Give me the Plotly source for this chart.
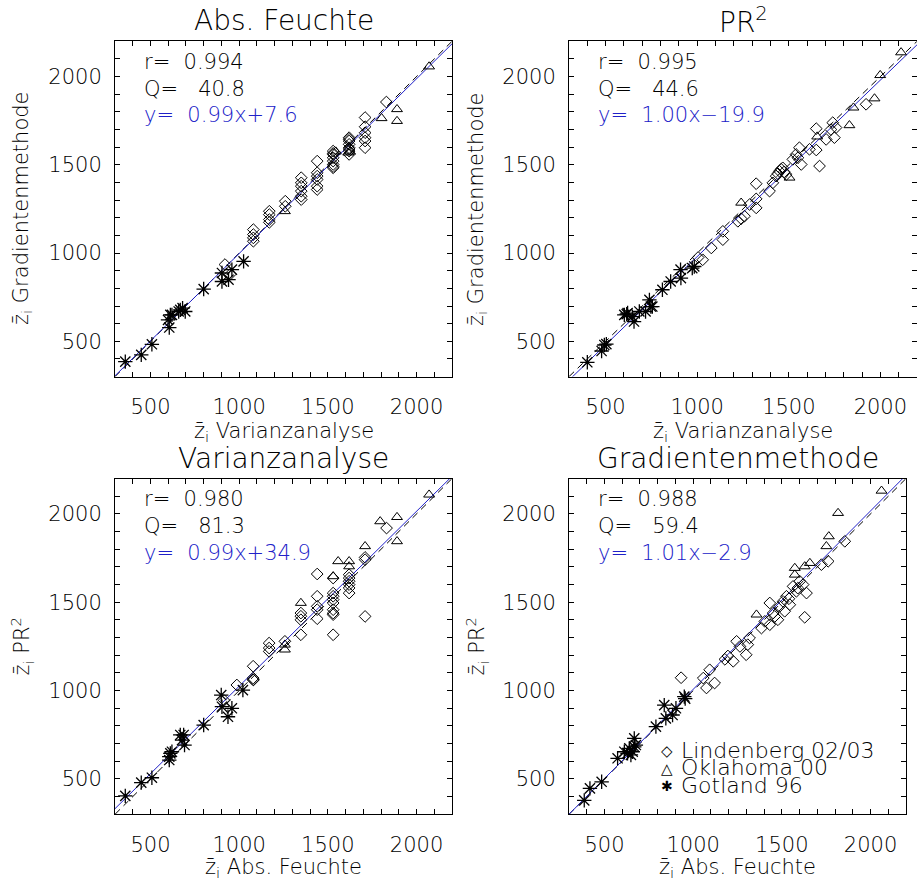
import plotly.graph_objects as go

W, H = 917, 881

# ---------------------------------------------------------------------------
# Data: mixing-layer height estimates (m) per campaign, one block per panel
# ---------------------------------------------------------------------------

# Panel 1: Abs. Feuchte, Varianzanalyse (x) vs Gradientenmethode (y)
p1_lin_x = [920, 950, 1080, 1080, 1080, 1080, 1170, 1170, 1170, 1170, 1260, 1260,
            1350, 1350, 1350, 1350, 1350, 1350, 1440, 1440, 1440, 1440, 1440, 1440,
            1530, 1530, 1530, 1530, 1530, 1530, 1530, 1530,
            1620, 1620, 1620, 1620, 1620, 1620, 1620, 1620,
            1710, 1710, 1710, 1710, 1710, 1710, 1830]
p1_lin_y = [935, 880, 1133, 1105, 1086, 1067, 1237, 1218, 1190, 1174, 1294, 1265,
            1427, 1398, 1379, 1351, 1322, 1303, 1521, 1455, 1436, 1417, 1379, 1360,
            1578, 1565, 1559, 1540, 1521, 1502, 1490, 1483,
            1654, 1645, 1635, 1616, 1597, 1590, 1578, 1559,
            1768, 1716, 1682, 1654, 1635, 1597, 1856]
p1_okl_x = [1258, 1545, 1615, 1625, 1803, 1890, 1890, 2071]
p1_okl_y = [1237, 1575, 1569, 1575, 1764, 1815, 1748, 2057]
p1_got_x = [358, 448, 508, 599, 606, 612, 621, 659, 668, 681, 696, 800, 903, 903, 940, 959, 1025]
p1_got_y = [385, 423, 483, 621, 578, 650, 650, 669, 678, 688, 669, 796, 887, 839, 849, 906, 953]

# Panel 2: PR2, Varianzanalyse (x) vs Gradientenmethode (y)
p2_lin_x = [1005, 1030, 1077, 1140, 1140, 1222, 1240, 1258, 1286, 1322, 1322, 1322,
            1395, 1413, 1431, 1440, 1449, 1458, 1467, 1486, 1475, 1522, 1540, 1558,
            1568, 1550, 1613, 1650, 1668, 1650, 1704, 1740, 1749, 1758, 1730, 1922]
p2_lin_y = [975, 962, 1029, 1076, 1123, 1180, 1195, 1209, 1275, 1256, 1307, 1393,
            1351, 1398, 1436, 1450, 1464, 1475, 1483, 1445, 1460, 1531, 1559, 1597,
            1502, 1540, 1588, 1584, 1493, 1705, 1644, 1739, 1654, 1711, 1700, 1843]
p2_okl_x = [1240, 1504, 1655, 1831, 1853, 1968, 1999, 2113]
p2_okl_y = [1285, 1427, 1660, 1724, 1824, 1876, 2008, 2137]
p2_got_x = [400, 478, 493, 504, 602, 615, 620, 646, 655, 684, 718, 739, 747, 755,
            810, 855, 909, 911, 973, 984]
p2_got_y = [381, 445, 479, 484, 650, 654, 660, 640, 612, 669, 669, 735, 697, 697,
            792, 839, 906, 858, 915, 924]

# Panel 3: Varianzanalyse, Abs. Feuchte (x) vs PR2 (y)
p3_lin_x = [915, 987, 1080, 1079, 1079, 1079, 1169, 1169, 1169, 1258,
            1348, 1348, 1348, 1348, 1440, 1440, 1440, 1440, 1440,
            1530, 1530, 1530, 1530, 1530, 1530, 1530, 1530, 1530,
            1620, 1620, 1620, 1620, 1620, 1620, 1710, 1710, 1710, 1831]
p3_lin_y = [945, 1032, 1060, 1138, 1071, 1062, 1269, 1241, 1222, 1279,
            1439, 1421, 1401, 1316, 1660, 1534, 1477, 1458, 1407,
            1637, 1552, 1534, 1515, 1496, 1458, 1439, 1430, 1316,
            1656, 1637, 1619, 1600, 1581, 1552, 1754, 1741, 1420, 1920]
p3_okl_x = [1258, 1258, 1348, 1530, 1558, 1620, 1620, 1710, 1795, 1890, 1890, 2071]
p3_okl_y = [1232, 1260, 1496, 1647, 1732, 1732, 1703, 1817, 1958, 1982, 1845, 2109]
p3_got_x = [358, 448, 508, 606, 606, 612, 621, 668, 687, 678, 692, 800, 899, 903, 937, 959, 1021]
p3_got_y = [404, 479, 507, 626, 607, 645, 654, 749, 749, 720, 692, 805, 975, 909, 852, 900, 1003]

# Panel 4: Gradientenmethode, Abs. Feuchte (x) vs PR2 (y)
p4_lin_x = [932, 1057, 1075, 1093, 1121, 1179, 1196, 1226, 1245, 1264, 1299, 1308, 1318,
            1385, 1404, 1432, 1432, 1451, 1478, 1488, 1507, 1516, 1526, 1545, 1563,
            1582, 1601, 1620, 1639, 1629, 1723, 1761, 1855, 1460, 1540, 1590]
p4_lin_y = [1073, 1071, 1015, 1118, 1043, 1177, 1196, 1166, 1279, 1250, 1203, 1260, 1298,
            1354, 1392, 1496, 1373, 1439, 1401, 1477, 1505, 1449, 1534, 1486, 1590,
            1562, 1619, 1600, 1552, 1415, 1713, 1732, 1845, 1420, 1520, 1580]
p4_okl_x = [1357, 1573, 1573, 1629, 1658, 1751, 1765, 1817, 2062]
p4_okl_y = [1430, 1694, 1656, 1703, 1722, 1817, 1873, 2005, 2131]
p4_got_x = [386, 418, 484, 574, 612, 630, 640, 649, 659, 668, 668, 677, 790, 837, 846, 884, 903, 950, 955]
p4_got_y = [379, 447, 484, 617, 654, 645, 673, 636, 654, 730, 682, 692, 796, 918, 843, 862, 900, 966, 955]

# Regression statistics per panel
corr_r = [0.994, 0.995, 0.980, 0.988]
quad_q = [40.8, 44.6, 81.3, 59.4]
fit_slope = [0.99, 1.00, 0.99, 1.01]
fit_icpt = [7.6, -19.9, 34.9, -2.9]

titles = ["Abs. Feuchte", "PR<sup>2</sup>", "Varianzanalyse", "Gradientenmethode"]
xtitles = ["Varianzanalyse", "Varianzanalyse", "Abs. Feuchte", "Abs. Feuchte"]
ytitles = ["Gradientenmethode", "Gradientenmethode", "PR<sup>2</sup>", "PR<sup>2</sup>"]
site_names = ["Lindenberg 02/03", "Oklahoma 00", "Gotland 96"]

AX_MIN, AX_MAX = 300, 2200

# ---------------------------------------------------------------------------
FONT = "DejaVu Sans"
WEIGHT = 200
TXT = "#000000"
BLUE = "#2020c8"


def font(size, color=TXT):
    return dict(family=FONT, size=size, color=color, weight=WEIGHT)


panels = [
    (p1_lin_x, p1_lin_y, p1_okl_x, p1_okl_y, p1_got_x, p1_got_y),
    (p2_lin_x, p2_lin_y, p2_okl_x, p2_okl_y, p2_got_x, p2_got_y),
    (p3_lin_x, p3_lin_y, p3_okl_x, p3_okl_y, p3_got_x, p3_got_y),
    (p4_lin_x, p4_lin_y, p4_okl_x, p4_okl_y, p4_got_x, p4_got_y),
]

# plot-box edges in pixels: (left, right, top, bottom)
boxes = [
    (115, 452, 41.3, 376.6),
    (569, 917, 41.3, 376.6),
    (115, 452, 478.6, 814.3),
    (569, 906, 478.6, 814.3),
]

fig = go.Figure()
annotations = []


def px(x):
    return x / W


def py(y):
    return 1 - y / H


for i, (pan, box) in enumerate(zip(panels, boxes)):
    n = i + 1
    xa = "x" if n == 1 else f"x{n}"
    ya = "y" if n == 1 else f"y{n}"
    lx, ly, ox, oy, gx, gy = pan

    # 1:1 reference line (dashed)
    fig.add_trace(go.Scatter(x=[AX_MIN, AX_MAX], y=[AX_MIN, AX_MAX], mode="lines",
                             line=dict(color="black", width=1, dash="7px,5px"),
                             xaxis=xa, yaxis=ya, showlegend=False, hoverinfo="skip"))
    # regression line
    fx = [AX_MIN, AX_MAX]
    fy = [fit_slope[i] * v + fit_icpt[i] for v in fx]
    fig.add_trace(go.Scatter(x=fx, y=fy, mode="lines",
                             line=dict(color=BLUE, width=1),
                             xaxis=xa, yaxis=ya, showlegend=False, hoverinfo="skip"))

    fig.add_trace(go.Scatter(x=lx, y=ly, mode="markers", name=site_names[0],
                             marker=dict(symbol="diamond-open", size=9, color="black",
                                         line=dict(color="black", width=1)),
                             xaxis=xa, yaxis=ya, showlegend=False))
    fig.add_trace(go.Scatter(x=ox, y=oy, mode="markers", name=site_names[1],
                             marker=dict(symbol="triangle-up-open", size=9.5, color="black",
                                         line=dict(color="black", width=1)),
                             xaxis=xa, yaxis=ya, showlegend=False))
    fig.add_trace(go.Scatter(x=gx, y=gy, mode="markers", name=site_names[2],
                             marker=dict(symbol="asterisk-open", size=12, color="black",
                                         line=dict(color="black", width=1.3)),
                             xaxis=xa, yaxis=ya, showlegend=False))

    left, right, top, bottom = box
    axis_common = dict(range=[AX_MIN, AX_MAX], showgrid=False, zeroline=False,
                       showline=True, linecolor="black", linewidth=1, mirror="ticks",
                       ticks="inside", ticklen=5, tickcolor="black", tickwidth=1,
                       dtick=500, tick0=0,
                       minor=dict(dtick=100, ticks="inside", ticklen=5,
                                  tickcolor="black", tickwidth=1),
                       tickfont=font(21))
    fig.update_layout({
        ("xaxis" if n == 1 else f"xaxis{n}"): dict(
            axis_common, domain=[px(left), min(1.0, px(right))], anchor=ya,
            ticklabelstandoff=11),
        ("yaxis" if n == 1 else f"yaxis{n}"): dict(
            axis_common, domain=[py(bottom), py(top)], anchor=xa,
            ticklabelstandoff=8),
    })

    cx = (left + right) / 2
    cy = (top + bottom) / 2
    title_y = 20 if n <= 2 else 458
    annotations.append(dict(text=titles[i], x=px(cx), y=py(title_y), xref="paper", yref="paper",
                            xanchor="center", yanchor="middle", showarrow=False,
                            font=font(28)))
    xt_y = 432 if n <= 2 else 868
    annotations.append(dict(text="z\u0304<sub>i</sub> " + xtitles[i], x=px(cx), y=py(xt_y),
                            xref="paper", yref="paper", xanchor="center", yanchor="middle",
                            showarrow=False, font=font(21)))
    yt_x = 22 if n in (1, 3) else 477
    annotations.append(dict(text="z\u0304<sub>i</sub> " + ytitles[i], x=px(yt_x), y=py(cy),
                            xref="paper", yref="paper", xanchor="center", yanchor="middle",
                            textangle=-90, showarrow=False, font=font(21)))

    # statistics block
    sx = left + 27
    r_txt = "r= " + f"{corr_r[i]:6.3f}"
    q_txt = "Q= " + f"{quad_q[i]:6.1f}"
    b = fit_icpt[i]
    sign = "+" if b >= 0 else "\u2212"
    y_txt = "y= " + f"{fit_slope[i]:5.2f}" + "x" + sign + f"{abs(b):.1f}"
    for k, (t, col) in enumerate([(r_txt, TXT), (q_txt, TXT), (y_txt, BLUE)]):
        annotations.append(dict(text=t.replace(" ", "\u00a0"), x=px(sx),
                                y=py(top + 20.5 + 26.7 * k),
                                xref="paper", yref="paper", xanchor="left", yanchor="middle",
                                showarrow=False, font=font(21, col)))

# legend inside the lower-right panel
legend_syms = ["\u25c7", "\u25b3", "\u2731"]
legend_sizes = [15, 15, 14]
for k, (sym, name) in enumerate(zip(legend_syms, site_names)):
    yy = 751 + 17.6 * k
    annotations.append(dict(text=sym, x=px(667), y=py(yy), xref="paper", yref="paper",
                            xanchor="center", yanchor="middle", showarrow=False,
                            font=dict(family=FONT, size=legend_sizes[k], color="black")))
    annotations.append(dict(text=name.replace(" ", "\u00a0"), x=px(679), y=py(yy - 1),
                            xref="paper", yref="paper", xanchor="left", yanchor="middle",
                            showarrow=False, font=font(22)))

fig.update_layout(width=W, height=H, margin=dict(l=0, r=0, t=0, b=0),
                  paper_bgcolor="white", plot_bgcolor="white",
                  annotations=annotations, showlegend=False)

fig.write_html("out.html")
